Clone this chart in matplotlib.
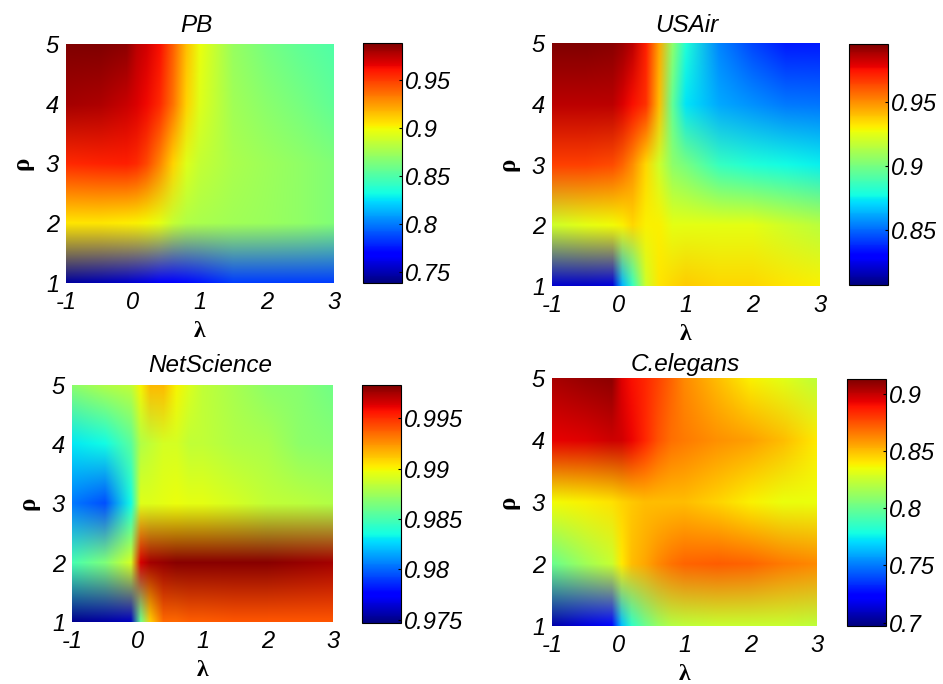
import numpy as np
import matplotlib
matplotlib.use('Agg')
import matplotlib.pyplot as plt
from matplotlib.cm import ScalarMappable
from matplotlib.colors import Normalize

# grid of the parameter scan
lam = [-1, -0.5, -0.1, 0.05, 0.2, 0.4, 0.6, 0.8, 1, 1.5, 2, 2.5, 3]
p = [1, 2, 3, 4, 5]

# values, one row per p
pb = [
    [.745, .750, .755, .758, .760, .765, .770, .772, .775, .785, .785, .785, .785],
    [.905, .905, .903, .902, .900, .895, .885, .880, .878, .875, .873, .870, .865],
    [.955, .957, .958, .955, .947, .930, .910, .893, .885, .878, .874, .870, .865],
    [.980, .978, .972, .968, .964, .955, .935, .910, .893, .875, .868, .862, .855],
    [.988, .988, .985, .975, .970, .962, .940, .915, .897, .872, .862, .855, .850],
]
usair = [
    [.820, .820, .822, .865, .885, .920, .932, .935, .937, .935, .935, .932, .930],
    [.920, .925, .928, .930, .935, .930, .930, .925, .925, .925, .925, .920, .915],
    [.965, .965, .963, .958, .950, .935, .920, .905, .900, .885, .880, .877, .875],
    [.985, .985, .985, .980, .975, .968, .940, .895, .873, .862, .857, .853, .852],
    [.995, .995, .993, .990, .985, .972, .945, .905, .880, .855, .843, .835, .835],
]
netscience = [
    [.9750, .9755, .9760, .9860, .9910, .9935, .9935, .9938, .9938, .9940, .9940, .9940, .9940],
    [.9850, .9865, .9890, .9965, .9975, .9978, .9980, .9980, .9980, .9980, .9980, .9978, .9975],
    [.9805, .9795, .9835, .9893, .9893, .9895, .9897, .9895, .9895, .9890, .9885, .9883, .9880],
    [.9830, .9835, .9855, .9880, .9885, .9890, .9890, .9885, .9885, .9880, .9878, .9870, .9868],
    [.9870, .9880, .9885, .9900, .9915, .9915, .9900, .9892, .9885, .9877, .9870, .9868, .9862],
]
celegans = [
    [.705, .715, .725, .765, .785, .800, .812, .820, .822, .825, .825, .825, .822],
    [.800, .815, .825, .840, .850, .855, .862, .867, .870, .872, .870, .865, .862],
    [.836, .838, .842, .845, .848, .850, .850, .850, .850, .845, .838, .834, .834],
    [.893, .895, .898, .897, .892, .885, .875, .868, .865, .860, .857, .850, .840],
    [.905, .908, .910, .895, .890, .885, .878, .870, .862, .850, .838, .832, .822],
]

names = ['PB', 'USAir', 'NetScience', 'C.elegans']
tables = [pb, usair, netscience, celegans]
limits = [(.7385, .9885), (.807, .995), (.9747, .99827), (.697, .913)]
cbar_ticks = [
    [.75, .8, .85, .9, .95],
    [.85, .9, .95],
    [.975, .98, .985, .99, .995],
    [.7, .75, .8, .85, .9],
]
cbar_labels = [
    ['0.75', '0.8', '0.85', '0.9', '0.95'],
    ['0.85', '0.9', '0.95'],
    ['0.975', '0.98', '0.985', '0.99', '0.995'],
    ['0.7', '0.75', '0.8', '0.85', '0.9'],
]
# left, right, top, bottom in pixels: heat map then colour bar
boxes = [
    ((66, 334, 44, 283), (363, 402, 43, 283)),
    ((552, 820, 43, 286), (849, 888, 44, 285)),
    ((72, 333, 385, 622), (362, 401, 385, 623)),
    ((552, 817, 378, 626), (847, 886, 379, 626)),
]
title_px = [(196, 25), (687, 26), (210, 366), (685, 365)]

W, H = 943, 684
plt.rcParams['font.family'] = ['Liberation Sans', 'DejaVu Sans']
plt.rcParams['axes.unicode_minus'] = False
fig = plt.figure(figsize=(W / 100, H / 100), dpi=100)


def px_axes(box):
    l, r, t, b = box
    return fig.add_axes([l / W, 1 - b / H, (r - l) / W, (b - t) / H])


def blend_rgb(rgb, nx, ny):
    # colours are blended between grid nodes, like interp shading in the original
    xs = np.linspace(lam[0], lam[-1], nx)
    ys = np.linspace(p[0], p[-1], ny)
    out = np.zeros((ny, nx, 3))
    for c in range(3):
        rows = np.array([np.interp(xs, lam, rgb[j, :, c]) for j in range(len(p))])
        for k in range(nx):
            out[:, k, c] = np.interp(ys, p, rows[:, k])
    return out


for i in range(4):
    box = boxes[i][0]
    ax = px_axes(box)
    vmin, vmax = limits[i]
    sm = ScalarMappable(norm=Normalize(vmin, vmax), cmap='jet')
    rgb = sm.to_rgba(np.array(tables[i]))[:, :, :3]
    ax.imshow(blend_rgb(rgb, box[1] - box[0], box[3] - box[2]), origin='lower',
              extent=(-1, 3, 1, 5), aspect='auto', interpolation='nearest')
    ax.set_xticks([-1, 0, 1, 2, 3])
    ax.set_yticks([1, 2, 3, 4, 5])
    ax.tick_params(length=0, labelsize=17)
    ax.tick_params(axis='x', pad=6)
    ax.tick_params(axis='y', pad=5)
    for lab in ax.get_xticklabels() + ax.get_yticklabels():
        lab.set_fontstyle('italic')
    for s in ax.spines.values():
        s.set_visible(False)
    cx, cy = title_px[i]
    ax.set_title(names[i], fontsize=17.5, style='italic', va='center', pad=0,
                 x=(cx - box[0]) / (box[1] - box[0]), y=(box[3] - cy) / (box[3] - box[2]))
    ax.set_xlabel('λ', fontsize=17, family='Liberation Serif', weight='bold', labelpad=5)
    ax.set_ylabel('ρ', fontsize=18, family='Liberation Serif', weight='bold', labelpad=9)

    cax = px_axes(boxes[i][1])
    cb = fig.colorbar(sm, cax=cax)
    cb.set_ticks(cbar_ticks[i])
    cb.set_ticklabels(cbar_labels[i])
    cb.ax.tick_params(direction='in', length=2, width=0.8, pad=2, labelsize=17)
    for lab in cb.ax.get_yticklabels():
        lab.set_fontstyle('italic')
    cb.outline.set_linewidth(0.8)

fig.savefig('out.png', dpi=100)
